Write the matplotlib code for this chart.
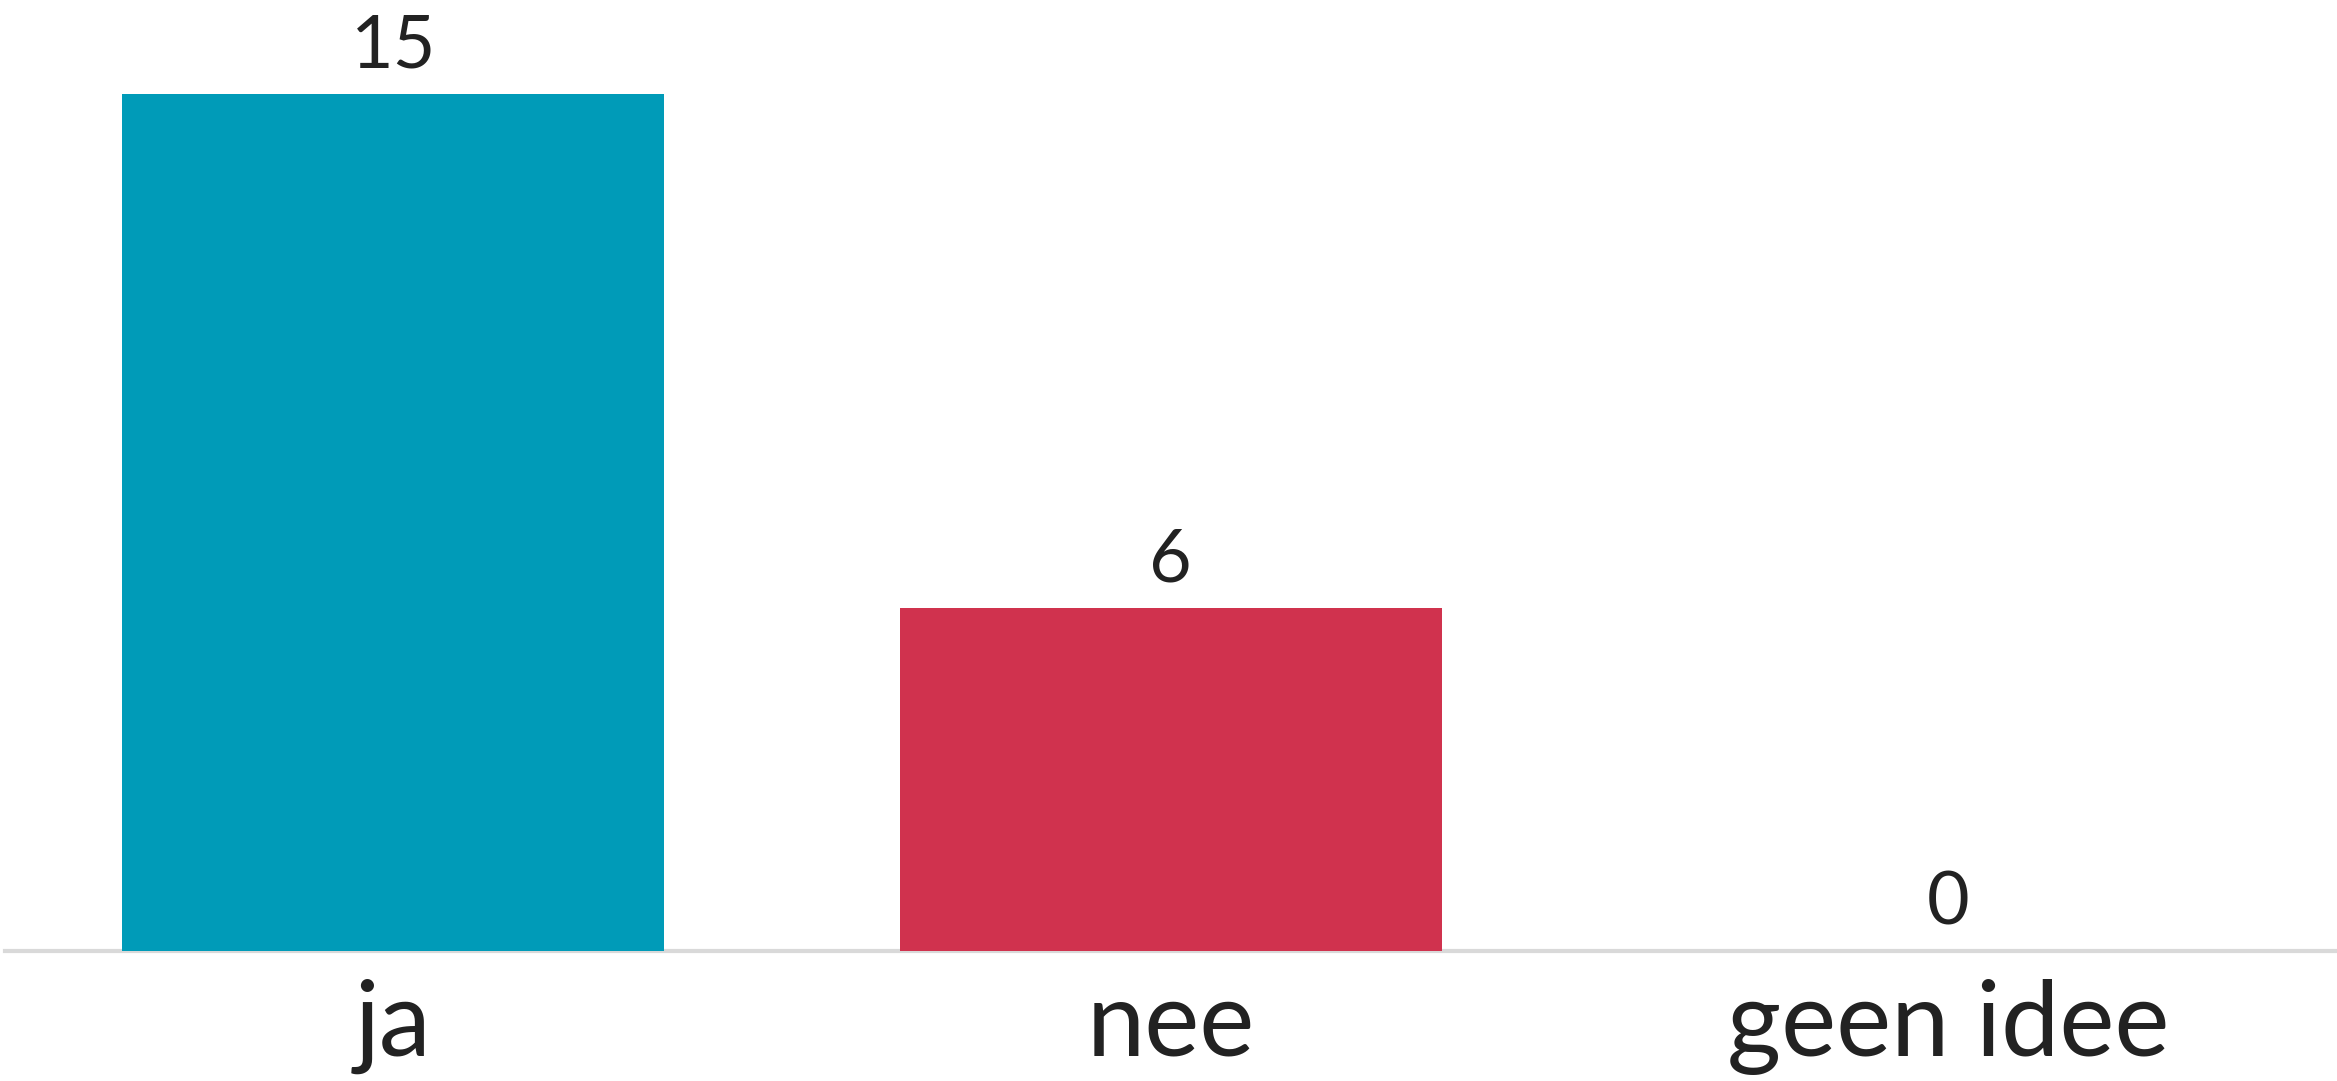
import matplotlib
matplotlib.use("Agg")
import matplotlib.pyplot as plt

categories = ["ja", "nee", "geen idee"]
counts = [15, 6, 0]
colors = ["#009bb8", "#d0324e", "#e8b43a"]

plt.rcParams["font.family"] = ["Lato", "DejaVu Sans"]

fig = plt.figure(figsize=(23.37, 10.81), dpi=100)
ax = fig.add_axes([0.002, 0.1203, 0.998, 0.8797])

x = range(len(categories))
bars = ax.bar(x, counts, width=0.697, color=colors, zorder=2)

ax.set_xlim(-0.5, 2.5)
ax.set_ylim(0, 16.65)

# count above each bar
for rect, v in zip(bars, counts):
    ax.annotate(str(v), (rect.get_x() + rect.get_width() / 2, v),
                xytext=(0, 10), textcoords="offset points",
                ha="center", va="bottom", fontsize=53, color="#222222")

ax.set_xticks(list(x))
ax.set_xticklabels(categories, fontsize=75, color="#222222")
ax.tick_params(axis="x", length=0, pad=20)
ax.set_yticks([])

for side in ["top", "left", "right"]:
    ax.spines[side].set_visible(False)
ax.spines["bottom"].set_color("#d9d9d9")
ax.spines["bottom"].set_linewidth(3)
ax.spines["bottom"].set_zorder(1)

fig.savefig("out.png", dpi=100, facecolor="white")
